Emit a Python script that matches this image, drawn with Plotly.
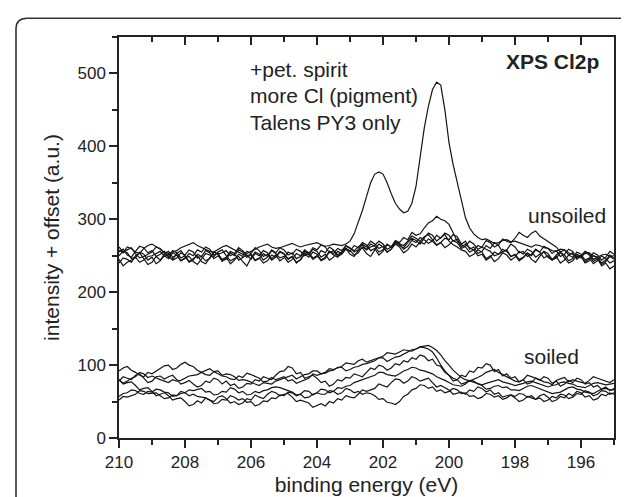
import plotly.graph_objects as go

# ---------------- data ----------------
energy = [210.0, 209.875, 209.75, 209.625, 209.5, 209.375, 209.25, 209.125,
          209.0, 208.875, 208.75, 208.625, 208.5, 208.375, 208.25, 208.125,
          208.0, 207.875, 207.75, 207.625, 207.5, 207.375, 207.25, 207.125,
          207.0, 206.875, 206.75, 206.625, 206.5, 206.375, 206.25, 206.125,
          206.0, 205.875, 205.75, 205.625, 205.5, 205.375, 205.25, 205.125,
          205.0, 204.875, 204.75, 204.625, 204.5, 204.375, 204.25, 204.125,
          204.0, 203.875, 203.75, 203.625, 203.5, 203.375, 203.25, 203.125,
          203.0, 202.875, 202.75, 202.625, 202.5, 202.375, 202.25, 202.125,
          202.0, 201.875, 201.75, 201.625, 201.5, 201.375, 201.25, 201.125,
          201.0, 200.875, 200.75, 200.625, 200.5, 200.375, 200.25, 200.125,
          200.0, 199.875, 199.75, 199.625, 199.5, 199.375, 199.25, 199.125,
          199.0, 198.875, 198.75, 198.625, 198.5, 198.375, 198.25, 198.125,
          198.0, 197.875, 197.75, 197.625, 197.5, 197.375, 197.25, 197.125,
          197.0, 196.875, 196.75, 196.625, 196.5, 196.375, 196.25, 196.125,
          196.0, 195.875, 195.75, 195.625, 195.5, 195.375, 195.25, 195.125,
          195.0]

py3_only = [258, 254, 262, 260, 255, 253, 260, 264, 266, 262, 259, 255, 253, 255, 257, 261, 263, 265, 268, 264,
            261, 258, 256, 255, 259, 262, 264, 261, 258, 254, 252, 253, 256, 260, 262, 264, 266, 262, 260, 261,
            263, 265, 267, 264, 262, 264, 265, 267, 268, 265, 263, 264, 266, 265, 264, 266, 270, 280, 295, 312,
            331, 350, 362, 365, 362, 350, 335, 322, 314, 309, 311, 322, 345, 385, 425, 455, 478, 488, 484, 450,
            405, 375, 350, 325, 302, 288, 280, 275, 272, 273, 270, 267, 268, 271, 272, 269, 270, 268, 266, 263,
            262, 265, 264, 261, 260, 257, 256, 259, 258, 254, 252, 249, 250, 253, 254, 250, 248, 251, 252, 249,
            250]

unsoiled_1 = [250, 256, 254, 246, 248, 241, 244, 249, 250, 253, 256, 249, 252, 244, 247, 254, 251, 258, 255, 247,
              249, 243, 246, 255, 252, 254, 257, 250, 253, 244, 248, 251, 245, 253, 250, 257, 254, 246, 251, 243,
              247, 255, 252, 259, 256, 250, 253, 245, 249, 257, 254, 262, 258, 251, 255, 263, 260, 257, 262, 265,
              258, 262, 264, 270, 266, 259, 262, 271, 268, 275, 272, 282, 278, 280, 288, 295, 298, 304, 300, 298,
              293, 282, 270, 265, 262, 255, 258, 264, 262, 259, 256, 250, 252, 255, 258, 266, 262, 254, 256, 249,
              252, 259, 255, 247, 250, 244, 247, 254, 251, 243, 246, 252, 249, 240, 243, 250, 247, 238, 242, 249,
              245]

unsoiled_2 = [262, 255, 258, 261, 253, 247, 249, 252, 255, 262, 260, 253, 256, 248, 251, 243, 246, 253, 250, 258,
              255, 262, 259, 251, 254, 242, 248, 239, 244, 252, 249, 256, 253, 261, 257, 249, 252, 244, 248, 255,
              252, 246, 249, 240, 245, 254, 251, 259, 256, 248, 252, 244, 248, 256, 253, 260, 257, 251, 254, 262,
              259, 266, 263, 255, 258, 266, 262, 269, 267, 264, 270, 277, 274, 270, 276, 279, 272, 265, 268, 261,
              265, 271, 268, 260, 263, 270, 266, 259, 262, 271, 268, 262, 265, 273, 270, 268, 274, 282, 278, 275,
              281, 284, 277, 273, 270, 266, 262, 255, 258, 251, 254, 247, 250, 256, 253, 245, 248, 240, 244, 251,
              247]

unsoiled_3 = [245, 236, 241, 244, 247, 255, 252, 244, 248, 239, 243, 250, 246, 254, 251, 243, 247, 249, 242, 238,
              246, 253, 251, 249, 255, 258, 250, 243, 246, 249, 242, 236, 247, 255, 252, 244, 248, 257, 253, 247,
              249, 241, 245, 253, 250, 258, 254, 247, 250, 243, 246, 256, 251, 248, 255, 260, 252, 249, 257, 261,
              253, 249, 258, 266, 262, 255, 259, 268, 264, 261, 268, 274, 271, 266, 274, 281, 278, 270, 275, 279,
              270, 265, 262, 258, 256, 249, 252, 258, 255, 246, 250, 242, 246, 254, 251, 244, 248, 256, 252, 259,
              256, 248, 252, 255, 248, 244, 251, 256, 247, 240, 243, 250, 247, 255, 251, 242, 246, 236, 240, 232,
              236]

unsoiled_4 = [255, 259, 251, 248, 256, 263, 261, 254, 257, 249, 252, 256, 248, 245, 253, 257, 249, 241, 244, 252,
              249, 257, 254, 246, 250, 243, 245, 254, 250, 258, 255, 248, 251, 243, 246, 253, 249, 258, 254, 261,
              258, 251, 254, 246, 249, 256, 253, 261, 258, 265, 262, 254, 257, 249, 252, 259, 256, 264, 261, 268,
              265, 257, 260, 251, 256, 265, 262, 270, 266, 259, 263, 271, 268, 275, 272, 267, 270, 278, 274, 281,
              278, 270, 273, 262, 266, 261, 258, 250, 252, 244, 248, 255, 252, 259, 256, 249, 251, 243, 247, 254,
              250, 258, 255, 263, 260, 253, 257, 249, 252, 259, 256, 245, 250, 241, 246, 254, 251, 244, 248, 256,
              252]

unsoiled_5 = [240, 247, 245, 241, 250, 254, 246, 238, 241, 249, 244, 252, 249, 257, 254, 247, 250, 242, 246, 250,
              242, 239, 247, 255, 252, 245, 248, 256, 253, 261, 257, 250, 252, 244, 247, 240, 243, 251, 248, 256,
              253, 245, 249, 241, 244, 252, 248, 255, 252, 244, 248, 256, 253, 260, 257, 264, 261, 255, 258, 266,
              262, 270, 266, 260, 263, 255, 259, 266, 262, 254, 258, 266, 262, 269, 266, 273, 270, 264, 268, 274,
              272, 279, 276, 266, 270, 259, 262, 253, 256, 264, 260, 268, 264, 255, 258, 249, 252, 245, 248, 253,
              245, 241, 249, 256, 253, 245, 249, 240, 244, 251, 248, 255, 252, 244, 247, 239, 243, 250, 246, 240,
              243]

soiled_1 = [92, 96, 98, 93, 90, 86, 84, 90, 88, 92, 95, 99, 100, 94, 96, 101, 104, 100, 98, 93,
            90, 87, 86, 91, 88, 85, 84, 81, 80, 85, 83, 89, 87, 84, 82, 77, 78, 83, 80, 82,
            84, 78, 80, 75, 77, 79, 82, 88, 86, 88, 90, 95, 94, 96, 98, 103, 102, 101, 106, 108,
            104, 106, 108, 110, 112, 117, 116, 115, 118, 121, 120, 119, 122, 125, 124, 122, 118, 110, 100, 92,
            86, 82, 80, 74, 76, 78, 80, 83, 86, 90, 92, 94, 90, 87, 84, 81, 78, 77, 80, 86,
            84, 83, 80, 77, 76, 73, 79, 81, 83, 77, 80, 78, 76, 75, 79, 84, 82, 80, 78, 76,
            80]

soiled_2 = [80, 75, 78, 82, 84, 90, 88, 83, 85, 82, 80, 78, 76, 80, 78, 79, 82, 85, 86, 87,
            90, 93, 95, 91, 92, 86, 88, 87, 84, 79, 80, 79, 76, 74, 72, 76, 75, 74, 78, 80,
            82, 85, 86, 81, 84, 87, 88, 92, 92, 88, 89, 92, 93, 97, 97, 92, 94, 97, 98, 101,
            102, 104, 106, 110, 110, 105, 108, 111, 112, 115, 117, 121, 122, 125, 126, 127, 124, 120, 114, 106,
            100, 93, 88, 83, 80, 78, 76, 74, 73, 75, 77, 79, 80, 77, 76, 74, 72, 73, 75, 77,
            78, 76, 74, 71, 70, 72, 73, 76, 77, 75, 74, 71, 70, 69, 72, 75, 76, 74, 73, 74,
            75]

soiled_3 = [78, 84, 82, 80, 86, 88, 82, 76, 78, 84, 85, 81, 84, 86, 80, 74, 76, 79, 74, 70,
            72, 78, 76, 82, 80, 74, 78, 72, 74, 68, 70, 75, 74, 80, 78, 84, 82, 80, 86, 91,
            92, 98, 96, 88, 90, 82, 84, 86, 82, 76, 78, 71, 74, 80, 78, 83, 82, 88, 86, 84,
            90, 96, 94, 100, 98, 93, 96, 102, 100, 106, 104, 110, 108, 114, 112, 106, 108, 100, 98, 90,
            86, 78, 80, 86, 84, 92, 90, 97, 96, 102, 100, 91, 94, 85, 88, 82, 84, 77, 80, 74,
            76, 82, 79, 84, 82, 75, 78, 71, 74, 79, 76, 82, 80, 74, 76, 70, 72, 67, 70, 65,
            68]

soiled_4 = [57, 61, 62, 66, 65, 61, 60, 64, 63, 67, 66, 63, 62, 57, 58, 61, 62, 66, 65, 66,
            68, 63, 64, 59, 60, 64, 63, 69, 67, 62, 64, 59, 60, 64, 62, 65, 66, 69, 70, 69,
            67, 64, 63, 59, 60, 55, 56, 60, 62, 67, 66, 62, 64, 69, 68, 71, 72, 76, 78, 79,
            82, 83, 86, 90, 90, 87, 86, 85, 88, 92, 94, 97, 96, 93, 92, 90, 88, 84, 82, 79,
            76, 73, 72, 71, 74, 79, 78, 74, 72, 67, 68, 71, 72, 69, 70, 66, 66, 65, 68, 71,
            72, 70, 68, 65, 64, 61, 62, 63, 66, 69, 70, 67, 66, 63, 62, 61, 64, 67, 68, 66,
            66]

soiled_5 = [52, 57, 56, 58, 60, 65, 64, 61, 62, 62, 58, 54, 55, 59, 58, 64, 62, 58, 60, 57,
            56, 55, 52, 47, 48, 53, 52, 58, 56, 52, 54, 49, 50, 44, 46, 51, 50, 55, 54, 59,
            58, 63, 62, 58, 60, 65, 64, 59, 62, 60, 60, 65, 64, 60, 62, 68, 66, 62, 64, 60,
            62, 61, 58, 53, 54, 49, 48, 46, 50, 57, 60, 66, 68, 73, 72, 68, 70, 64, 66, 62,
            64, 68, 66, 61, 62, 57, 58, 54, 56, 61, 60, 56, 58, 53, 55, 59, 57, 61, 60, 56,
            58, 53, 55, 50, 52, 57, 55, 60, 59, 54, 56, 61, 60, 65, 63, 58, 60, 65, 64, 60,
            62]

soiled_6 = [80, 74, 76, 77, 72, 66, 68, 69, 64, 58, 60, 62, 58, 52, 54, 55, 50, 44, 46, 51,
            48, 55, 52, 50, 56, 58, 54, 48, 50, 46, 48, 54, 52, 59, 56, 54, 60, 64, 62, 58,
            60, 61, 56, 50, 52, 50, 48, 42, 45, 47, 44, 50, 48, 54, 52, 58, 56, 55, 60, 66,
            64, 66, 68, 74, 72, 70, 76, 81, 80, 75, 78, 84, 82, 78, 80, 82, 76, 70, 72, 69,
            66, 60, 62, 63, 60, 66, 64, 70, 68, 63, 66, 60, 62, 56, 58, 59, 55, 50, 52, 57,
            55, 53, 58, 60, 56, 50, 52, 57, 55, 61, 58, 64, 62, 56, 58, 52, 54, 60, 58, 62,
            60]

series = [py3_only, unsoiled_1, unsoiled_2, unsoiled_3, unsoiled_4, unsoiled_5,
          soiled_1, soiled_2, soiled_3, soiled_4, soiled_5, soiled_6]

x_ticks = [210, 208, 206, 204, 202, 200, 198, 196]
y_ticks = [0, 100, 200, 300, 400, 500]

# ---------------- figure ----------------
FONT = "Arial, 'Liberation Sans', Helvetica, sans-serif"
W, H = 629, 497
ML, MR, MT, MB = 111, 23, 29, 63

fig = go.Figure()
for s in series:
    fig.add_trace(go.Scatter(x=energy, y=s, mode="lines",
                             line=dict(color="#151515", width=1.2),
                             showlegend=False, hoverinfo="skip"))
# helper trace for the top axis
fig.add_trace(go.Scatter(x=[energy[0], energy[-1]], y=[None, None], xaxis="x2",
                         mode="lines", showlegend=False, hoverinfo="skip"))

axis_col = "#222222"
fig.update_layout(
    width=W, height=H,
    margin=dict(l=ML, r=MR, t=MT, b=MB, pad=0),
    paper_bgcolor="white", plot_bgcolor="white",
    font=dict(family=FONT, color="#222222"),
    xaxis=dict(range=[210, 195], tickvals=x_ticks, ticktext=[str(v) for v in x_ticks],
               ticks="outside", ticklen=8, tickwidth=1.5, tickcolor=axis_col,
               minor=dict(ticks="outside", ticklen=5, tickwidth=1.5, dtick=1, tick0=210,
                          tickcolor=axis_col),
               showline=True, linecolor=axis_col, linewidth=1.5, mirror=False,
               showgrid=False, zeroline=False,
               tickfont=dict(size=17, family=FONT, color="#222"),
               title=dict(text="binding energy (eV)", font=dict(size=21, family=FONT, color="#222"),
                          standoff=6)),
    xaxis2=dict(range=[210, 195], overlaying="x", side="top", anchor="y",
                tickvals=x_ticks, ticks="inside", ticklen=8, tickwidth=1.5, tickcolor=axis_col,
                minor=dict(ticks="inside", ticklen=5, tickwidth=1.5, dtick=1, tick0=210,
                           tickcolor=axis_col),
                showticklabels=False, showline=True, linecolor=axis_col, linewidth=1.5,
                showgrid=False, zeroline=False),
    yaxis=dict(range=[0, 550], tickvals=y_ticks, ticks="outside", ticklen=8, tickwidth=1.5,
               tickcolor=axis_col,
               minor=dict(ticks="outside", ticklen=5, tickwidth=1.5, dtick=50, tick0=0,
                          tickcolor=axis_col),
               showline=True, linecolor=axis_col, linewidth=1.5, mirror=True,
               showgrid=False, zeroline=False,
               tickfont=dict(size=17, family=FONT, color="#222"),
               title=dict(text="intensity + offset (a.u.)", font=dict(size=21, family=FONT, color="#222"),
                          standoff=12)),
)

# annotations
ann_font = dict(size=21, family=FONT, color="#222222")
notes = [("+pet. spirit", 206.1, 506), ("more Cl (pigment)", 206.1, 469.5),
         ("Talens PY3 only", 206.1, 433)]
for txt, xv, yv in notes:
    fig.add_annotation(x=xv, y=yv, xref="x", yref="y", text=txt, showarrow=False,
                       xanchor="left", yanchor="middle", font=ann_font)
fig.add_annotation(x=195.39, y=516, xref="x", yref="y", text="<b>XPS Cl2p</b>", showarrow=False,
                   xanchor="right", yanchor="middle", font=ann_font)
fig.add_annotation(x=195.18, y=304.5, xref="x", yref="y", text="unsoiled", showarrow=False,
                   xanchor="right", yanchor="middle", font=ann_font)
fig.add_annotation(x=195.99, y=112, xref="x", yref="y", text="soiled", showarrow=False,
                   xanchor="right", yanchor="middle", font=ann_font)

# rounded frame around the whole graphic (pixel -> paper conversion)
pw, ph = W - ML - MR, H - MT - MB
def px(xp):
    return (xp - ML) / pw
def py(yp):
    return (H - MB - yp) / ph
x0, x1, yt, yb, r = 8, 626, 10, 515, 11
path = (f"M {px(x0 + r)},{py(yt)} L {px(x1 - r)},{py(yt)} "
        f"Q {px(x1)},{py(yt)} {px(x1)},{py(yt + r)} L {px(x1)},{py(yb)} "
        f"L {px(x0)},{py(yb)} L {px(x0)},{py(yt + r)} "
        f"Q {px(x0)},{py(yt)} {px(x0 + r)},{py(yt)} Z")
fig.add_shape(type="path", path=path, xref="paper", yref="paper",
              line=dict(color="#333333", width=1.6), layer="below")

fig.write_html("out.html")
